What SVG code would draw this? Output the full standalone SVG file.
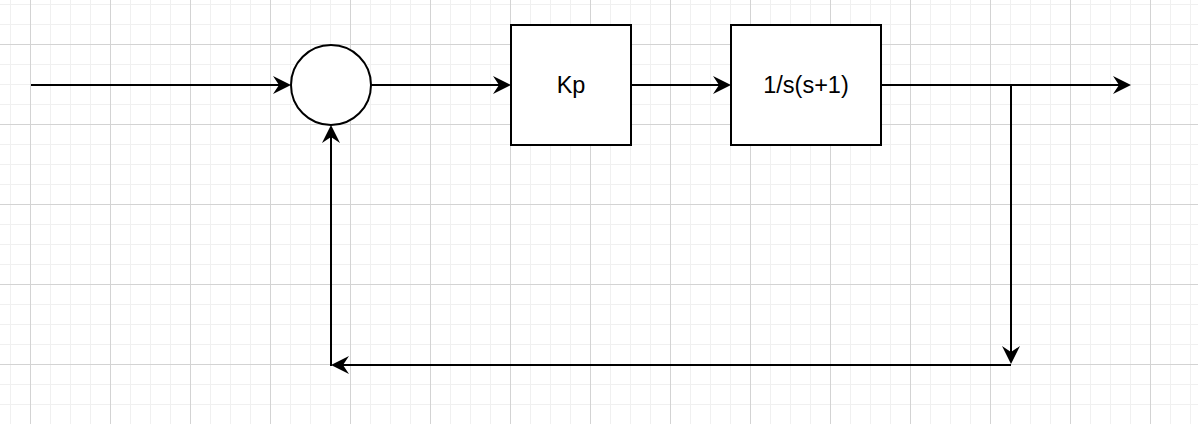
<svg xmlns="http://www.w3.org/2000/svg" width="1198" height="424" viewBox="0 0 1198 424">
  <style>
    .node { fill: #ffffff; stroke: #000000; stroke-width: 2; }
    .edge { fill: none; stroke: #000000; stroke-width: 2; }
    .label { font-family: "Liberation Sans", Arial, Helvetica, sans-serif; font-size: 23.5px; fill: #000000; text-anchor: middle; dominant-baseline: central; }
    .minor { stroke: #f0f0f0; stroke-width: 1; }
    .major { stroke: #d3d3d3; stroke-width: 1; }
  </style>
  <defs>
    <pattern id="grid" patternUnits="userSpaceOnUse" x="30" y="44" width="80" height="80">
      <line class="minor" x1="20.5" y1="0" x2="20.5" y2="80"/>
      <line class="minor" x1="40.5" y1="0" x2="40.5" y2="80"/>
      <line class="minor" x1="60.5" y1="0" x2="60.5" y2="80"/>
      <line class="minor" x1="0" y1="20.5" x2="80" y2="20.5"/>
      <line class="minor" x1="0" y1="40.5" x2="80" y2="40.5"/>
      <line class="minor" x1="0" y1="60.5" x2="80" y2="60.5"/>
      <line class="major" x1="0.5" y1="0" x2="0.5" y2="80"/>
      <line class="major" x1="0" y1="0.5" x2="80" y2="0.5"/>
    </pattern>
    <marker id="arrow" markerUnits="userSpaceOnUse" viewBox="0 0 18 18" markerWidth="18" markerHeight="18" refX="8" refY="9" orient="auto">
      <path d="M18,9 L0,0 L6,9 L0,18 Z" fill="#000000"/>
    </marker>
  </defs>
  <rect x="0" y="0" width="1198" height="424" fill="#ffffff"/>
  <rect x="0" y="0" width="1198" height="424" fill="url(#grid)"/>

  <g id="connectors">
    <line class="edge" x1="31" y1="85" x2="281" y2="85" marker-end="url(#arrow)"/>
    <line class="edge" x1="371" y1="85" x2="501" y2="85" marker-end="url(#arrow)"/>
    <line class="edge" x1="631" y1="85" x2="721" y2="85" marker-end="url(#arrow)"/>
    <line class="edge" x1="881" y1="85" x2="1121" y2="85" marker-end="url(#arrow)"/>
    <line class="edge" x1="1011" y1="85" x2="1011" y2="354" marker-end="url(#arrow)"/>
    <line class="edge" x1="1011" y1="365" x2="341" y2="365" marker-end="url(#arrow)"/>
    <line class="edge" x1="331" y1="366" x2="331" y2="135" marker-end="url(#arrow)"/>
  </g>

  <g id="sum">
    <circle class="node" cx="331" cy="85" r="40"/>
  </g>
  <g id="kp">
    <rect class="node" x="511" y="25" width="120" height="120"/>
    <text class="label" x="571" y="85">Kp</text>
  </g>
  <g id="plant">
    <rect class="node" x="731" y="25" width="150" height="120"/>
    <text class="label" x="806" y="85">1/s(s+1)</text>
  </g>
</svg>
